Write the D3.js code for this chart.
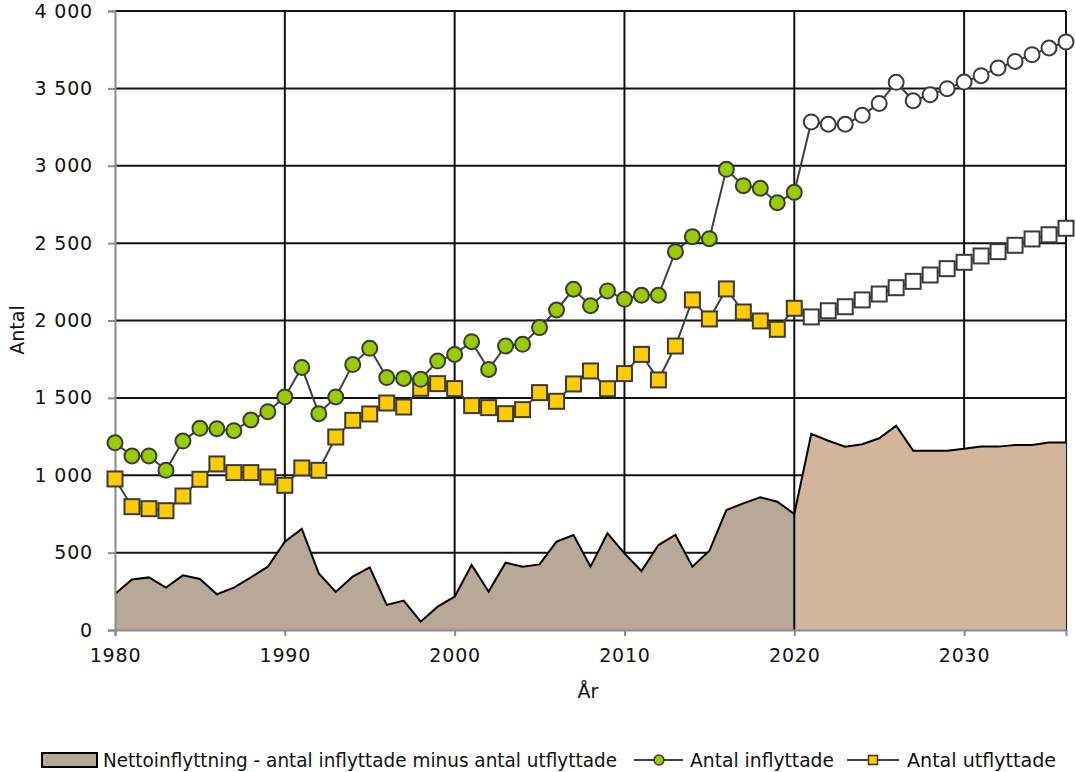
<!DOCTYPE html>
<html>
<head>
<meta charset="utf-8">
<script src="https://cdn.jsdelivr.net/npm/d3@7"></script>
<style>
html,body{margin:0;padding:0;background:#fff;}
svg text{font-family:"DejaVu Sans",sans-serif;fill:#111;}
</style>
</head>
<body>
<svg id="chart" width="1076" height="772"></svg>
<script>
// ---- data ----
const histYears = d3.range(1980, 2021);
const projYears = d3.range(2021, 2037);

const inflyttadeHist = [1210,1125,1125,1032,1221,1303,1301,1288,1357,1411,
  1506,1697,1398,1506,1715,1820,1631,1626,1620,1738,
  1781,1863,1684,1835,1846,1954,2068,2202,2096,2191,
  2137,2163,2163,2445,2542,2529,2977,2871,2854,2761,
  2828];
const inflyttadeProj = [3283,3268,3268,3326,3403,3539,3420,3459,3498,3541,3582,3632,3674,3718,3761,3800];

const utflyttadeHist = [976,797,784,771,866,974,1073,1017,1017,989,
  935,1047,1032,1247,1355,1396,1467,1441,1562,1592,
  1560,1450,1437,1398,1424,1534,1478,1590,1674,1559,
  1657,1781,1616,1835,2133,2010,2204,2055,1997,1943,
  2079];
const utflyttadeProj = [2023,2063,2089,2133,2171,2212,2253,2294,2335,2376,2417,2445,2486,2527,2554,2596];

const nettoHist = [233,327,340,274,353,330,231,274,340,409,
  571,653,366,246,345,405,162,190,54,151,
  215,420,248,435,409,424,571,614,409,625,
  495,381,549,614,409,512,775,818,857,829,
  750];
const nettoProj = [1267,1223,1185,1200,1239,1320,1159,1159,1159,1172,1185,1185,1195,1195,1211,1211];

const yTicks = [0,500,1000,1500,2000,2500,3000,3500,4000];
const xTicks = [1980,1990,2000,2010,2020,2030];
const legendLabels = ["Nettoinflyttning - antal inflyttade minus antal utflyttade","Antal inflyttade","Antal utflyttade"];
const xTitle = "År", yTitle = "Antal";

// ---- layout ----
const svg = d3.select("#chart");
const L = 115, R = 1066, T = 11, B = 630;
const x = d3.scaleLinear().domain([1980, 2036]).range([L, R]);
const y = d3.scaleLinear().domain([0, 4000]).range([B, T]);
const fmt = v => d3.format(",")(v).replace(/,/g, " ");

const zip = (ys, vs) => ys.map((yr, i) => ({yr, v: vs[i]}));
const inHist = zip(histYears, inflyttadeHist), inProj = zip(projYears, inflyttadeProj);
const utHist = zip(histYears, utflyttadeHist), utProj = zip(projYears, utflyttadeProj);
const netHist = zip(histYears, nettoHist);
const netProj = [netHist[netHist.length-1]].concat(zip(projYears, nettoProj));

// gridlines
const grid = svg.append("g");
grid.selectAll("line.h").data(yTicks.filter(d => d > 0)).join("line")
  .attr("x1", L).attr("x2", R).attr("y1", d => y(d)).attr("y2", d => y(d))
  .attr("stroke", "#111").attr("stroke-width", 2);
grid.selectAll("line.v").data(xTicks.filter(d => d > 1980).concat([2036])).join("line")
  .attr("x1", d => x(d)).attr("x2", d => x(d)).attr("y1", T).attr("y2", B)
  .attr("stroke", "#111").attr("stroke-width", 2);

// areas
const area = d3.area().x(d => x(d.yr)).y0(y(0)).y1(d => y(d.v));
const topLine = d3.line().x(d => x(d.yr)).y(d => y(d.v));
svg.append("path").datum(netHist).attr("d", area).attr("fill", "#B8A898");
svg.append("path").datum(netProj).attr("d", area).attr("fill", "#D3B59B");
svg.append("path").datum(netHist.concat(netProj.slice(1))).attr("d", topLine)
  .attr("fill", "none").attr("stroke", "#000").attr("stroke-width", 2).attr("stroke-linejoin", "miter");
svg.append("line").attr("x1", x(2020)).attr("x2", x(2020)).attr("y1", y(0)).attr("y2", y(nettoHist[nettoHist.length-1]))
  .attr("stroke", "#000").attr("stroke-width", 2);

// axes
const yAxis = svg.append("g").attr("transform", `translate(${L},0)`)
  .call(d3.axisLeft(y).tickValues(yTicks).tickFormat(fmt).tickSize(7).tickPadding(15));
const xAxis = svg.append("g").attr("transform", `translate(0,${B})`)
  .call(d3.axisBottom(x).tickValues(xTicks).tickFormat(d3.format("d")).tickSize(6).tickPadding(13));
[yAxis, xAxis].forEach(g => {
  g.select(".domain").attr("stroke", "#8a8a8a").attr("stroke-width", 2);
  g.selectAll(".tick line").attr("stroke", "#8a8a8a").attr("stroke-width", 2);
  g.selectAll(".tick text").attr("font-size", 19).attr("fill", "#111")
    .style("font-family", "DejaVu Sans, sans-serif").attr("letter-spacing", 0.8);
});

// lines
const line = d3.line().x(d => x(d.yr)).y(d => y(d.v));
svg.append("path").datum(inHist.concat(inProj)).attr("d", line)
  .attr("fill", "none").attr("stroke", "#404040").attr("stroke-width", 2);
svg.append("path").datum(utHist.concat(utProj)).attr("d", line)
  .attr("fill", "none").attr("stroke", "#404040").attr("stroke-width", 2);

// markers
const sq = 15;
svg.append("g").selectAll("rect").data(utHist.map(d => ({...d, f: "#FFCC00"})).concat(utProj.map(d => ({...d, f: "#fff"})))).join("rect")
  .attr("x", d => x(d.yr) - sq/2).attr("y", d => y(d.v) - sq/2).attr("width", sq).attr("height", sq)
  .attr("fill", d => d.f).attr("stroke", "#3a3a3a").attr("stroke-width", 2);
svg.append("g").selectAll("circle").data(inHist.map(d => ({...d, f: "#99CC00"})).concat(inProj.map(d => ({...d, f: "#fff"})))).join("circle")
  .attr("cx", d => x(d.yr)).attr("cy", d => y(d.v)).attr("r", 7.5)
  .attr("fill", d => d.f).attr("stroke", "#3a3a3a").attr("stroke-width", 2);

// titles
svg.append("text").attr("transform", "translate(24,330) rotate(-90)").attr("text-anchor", "middle")
  .attr("font-size", 19).text(yTitle);
svg.append("text").attr("x", 588).attr("y", 698).attr("text-anchor", "middle")
  .attr("font-size", 19).text(xTitle);

// legend
const lg = svg.append("g");
const ly = 760;
lg.append("rect").attr("x", 42).attr("y", ly - 7).attr("width", 55).attr("height", 14)
  .attr("fill", "#B8A898").attr("stroke", "#000").attr("stroke-width", 2);
lg.append("text").attr("x", 103).attr("y", ly + 7).attr("font-size", 19)
  .attr("textLength", 514).attr("lengthAdjust", "spacingAndGlyphs").text(legendLabels[0]);
lg.append("line").attr("x1", 634).attr("x2", 683).attr("y1", ly).attr("y2", ly).attr("stroke", "#404040").attr("stroke-width", 2);
lg.append("circle").attr("cx", 659).attr("cy", ly).attr("r", 5).attr("fill", "#99CC00").attr("stroke", "#3a3a3a").attr("stroke-width", 1.5);
lg.append("text").attr("x", 690).attr("y", ly + 7).attr("font-size", 19)
  .attr("textLength", 144).attr("lengthAdjust", "spacingAndGlyphs").text(legendLabels[1]);
lg.append("line").attr("x1", 847).attr("x2", 899).attr("y1", ly).attr("y2", ly).attr("stroke", "#404040").attr("stroke-width", 2);
lg.append("rect").attr("x", 873 - 4.5).attr("y", ly - 4.5).attr("width", 9).attr("height", 9).attr("fill", "#FFCC00").attr("stroke", "#3a3a3a").attr("stroke-width", 1.5);
lg.append("text").attr("x", 907).attr("y", ly + 7).attr("font-size", 19)
  .attr("textLength", 149).attr("lengthAdjust", "spacingAndGlyphs").text(legendLabels[2]);
</script>
</body>
</html>
